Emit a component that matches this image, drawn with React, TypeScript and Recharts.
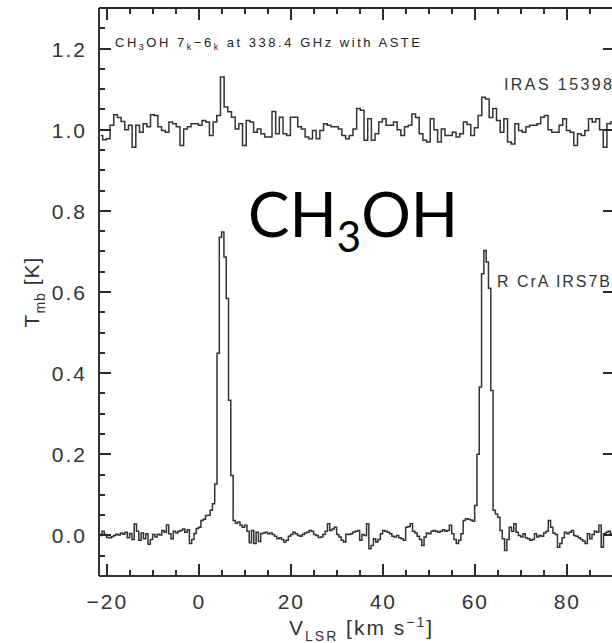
import { LineChart, Line, XAxis, YAxis } from "recharts";

// channel grids (km/s)
const IRAS_V0 = -21.4;
const IRAS_DV = 0.8;
const RCRA_V0 = -21.9;
const RCRA_DV = 0.5;

// IRAS 15398, shown with the +1.0 K offset as in the figure
const irasTmb = [
  0.986, 0.975, 0.978, 1.011, 1.037, 1.03, 1.02, 1.0, 1.011, 0.957,
  1.011, 0.994, 1.015, 1.007, 1.037, 1.035, 1.007, 0.998, 0.994, 1.019,
  1.015, 1.007, 0.961, 1.002, 1.007, 1.015, 1.015, 1.011, 1.023, 1.019,
  0.986, 1.019, 1.035, 1.13, 1.056, 1.044, 1.031, 1.002, 1.015, 0.961,
  1.023, 1.019, 0.994, 1.002, 0.99, 0.982, 0.982, 1.045, 0.99, 1.031,
  0.99, 0.986, 1.031, 1.031, 1.007, 1.002, 0.982, 0.978, 0.998, 0.978,
  0.998, 1.015, 1.011, 1.007, 1.007, 1.002, 0.986, 0.978, 0.986, 1.002,
  1.052, 1.048, 0.974, 1.027, 0.974, 0.99, 1.019, 1.027, 1.011, 1.011,
  1.019, 1.0, 0.986, 1.007, 1.011, 1.039, 1.03, 0.99, 0.974, 0.97,
  1.027, 1.0, 0.97, 1.002, 0.986, 0.986, 0.994, 0.982, 0.99, 1.019,
  1.013, 0.986, 1.005, 1.035, 1.08, 1.076, 1.03, 1.052, 1.023, 0.994,
  1.027, 0.97, 0.965, 1.015, 0.998, 0.994, 1.007, 1.011, 1.011, 1.015,
  1.031, 1.035, 1.0, 0.994, 0.994, 1.011, 1.027, 0.998, 0.994, 0.961,
  0.99, 0.986, 0.998, 1.027, 1.019, 1.027, 1.0, 0.957, 1.015, 1.019,
];

// R CrA IRS7B
const rcraTmb = [
  0.004, 0.0, 0.01, 0.002, -0.005, -0.006, -0.003, 0.0, 0.003, 0.001,
  0.006, 0.003, 0.008, -0.006, 0.005, -0.01, 0.028, 0.01, -0.012, 0.006,
  -0.008, 0.004, -0.022, -0.01, 0.002, -0.004, 0.003, 0.001, 0.012, 0.008,
  0.026, 0.004, -0.008, 0.01, 0.006, 0.01, 0.012, 0.016, 0.008, 0.014,
  -0.02, -0.01, 0.005, 0.017, 0.02, 0.037, 0.04, 0.049, 0.05, 0.062,
  0.078, 0.127, 0.449, 0.735, 0.748, 0.686, 0.584, 0.333, 0.148, 0.037,
  0.03, 0.033, 0.025, 0.02, 0.025, 0.01, -0.018, 0.012, -0.02, 0.008,
  -0.015, 0.005, 0.006, 0.008, 0.004, 0.006, 0.002, -0.002, -0.008, -0.006,
  -0.01, -0.016, -0.012, -0.002, 0.002, 0.008, 0.004, 0.0, -0.002, 0.002,
  0.006, 0.008, 0.012, 0.01, 0.002, 0.0, -0.005, -0.004, 0.002, 0.01,
  0.029, 0.012, 0.016, 0.02, 0.002, -0.004, -0.012, -0.016, 0.003, 0.002,
  0.004, 0.008, 0.01, 0.012, -0.012, 0.002, 0.0, 0.029, -0.033, -0.025,
  -0.008, -0.016, -0.01, 0.004, 0.012, 0.01, 0.008, 0.004, -0.002, -0.004,
  0.0, -0.006, -0.008, -0.012, 0.02, 0.022, 0.029, 0.01, 0.006, -0.002,
  -0.01, -0.025, -0.004, 0.006, 0.004, 0.01, 0.012, 0.01, 0.008, 0.01,
  0.014, 0.01, 0.012, 0.025, 0.004, -0.01, -0.02, -0.012, 0.004, 0.037,
  0.041, 0.04, 0.038, 0.035, 0.074, 0.2, 0.366, 0.645, 0.702, 0.674,
  0.609, 0.357, 0.062, 0.053, 0.045, 0.012, -0.008, -0.037, -0.01, 0.02,
  0.01, 0.029, 0.008, 0.0, -0.004, 0.004, -0.006, -0.008, -0.012, -0.01,
  0.004, -0.004, 0.0, -0.002, 0.006, 0.01, 0.037, 0.02, 0.006, 0.002,
  -0.029, -0.02, -0.006, 0.008, 0.004, 0.008, 0.012, 0.0, -0.002, -0.006,
  -0.01, -0.014, -0.02, 0.004, -0.008, 0.002, 0.01, 0.008, 0.025, -0.029,
  0.004, 0.008, 0.01, 0.005, 0.0,
];

const xTicks = [-20, -15, -10, -5, 0, 5, 10, 15, 20, 25, 30, 35, 40, 45, 50, 55, 60, 65, 70, 75, 80, 85];
const yTicks = [
  -0.05, 0, 0.05, 0.1, 0.15, 0.2, 0.25, 0.3, 0.35, 0.4, 0.45, 0.5, 0.55, 0.6,
  0.65, 0.7, 0.75, 0.8, 0.85, 0.9, 0.95, 1.0, 1.05, 1.1, 1.15, 1.2, 1.25,
];

const INK = "#333333";
const FONT = "'Liberation Sans', Arial, sans-serif";
const X_MIN = -21.8;
const X_MAX = 89.7;
const Y_MIN = -0.1;
const Y_MAX = 1.3;

// plot box shared by the chart and the frame overlay
const W = 612;
const H = 643;
const PLOT_L = 99;
const PLOT_T = 8;
const AXIS_H = 67;
const PLOT_W = W - PLOT_L;
const PLOT_H = H - PLOT_T - AXIS_H;
const sx = (v: number) => PLOT_L + ((v - X_MIN) / (X_MAX - X_MIN)) * PLOT_W;
const sy = (v: number) => PLOT_T + ((Y_MAX - v) / (Y_MAX - Y_MIN)) * PLOT_H;

const irasData = irasTmb.map((t, i) => ({ v: IRAS_V0 + IRAS_DV * i, t }));
const rcraData = rcraTmb.map((t, i) => ({ v: RCRA_V0 + RCRA_DV * i, t }));

const isMajorX = (v: number) => Math.round(v) % 20 === 0;
const isMajorY = (v: number) => Math.round(v * 100) % 20 === 0;

function BottomLabel(p: any) {
  const v = p.payload.value;
  if (!isMajorX(v)) return <g />;
  return (
    <text x={p.x} y={p.y + 33} textAnchor="middle" fontSize={21} letterSpacing={2} fill={INK} fontFamily={FONT}>
      {v < 0 ? "\u2212" + Math.abs(v) : String(v)}
    </text>
  );
}

function LeftLabel(p: any) {
  const v = p.payload.value;
  if (!isMajorY(v)) return <g />;
  return (
    <text x={p.x - 12} y={p.y + 8} textAnchor="end" fontSize={21} letterSpacing={2} fill={INK} fontFamily={FONT}>
      {v.toFixed(1)}
    </text>
  );
}

// inward tick marks and top frame, drawn as filled rects
function Frame() {
  const t = 2;
  return (
    <g fill="#2a2a2a" stroke="none">
      <rect x={PLOT_L} y={PLOT_T - 1} width={PLOT_W} height={t} />
      {xTicks.map((v) => {
        const len = isMajorX(v) ? 12 : 6;
        const x = Math.round(sx(v)) - 1;
        return (
          <g key={"x" + v}>
            <rect x={x} y={PLOT_T + PLOT_H - len} width={t} height={len} />
            <rect x={x} y={PLOT_T} width={t} height={len} />
          </g>
        );
      })}
      {yTicks.map((v) => {
        const major = isMajorY(v);
        const y = Math.round(sy(v)) - 1;
        return (
          <g key={"y" + v}>
            <rect x={PLOT_L} y={y} width={major ? 12 : 6} height={t} />
            {major ? <rect x={W - 9} y={y} width={9} height={t} /> : null}
          </g>
        );
      })}
    </g>
  );
}

export default function App() {
  return (
    <div style={{ position: "fixed", left: 0, top: 0, width: W, height: H, background: "#fff", overflow: "hidden" }}>
      <div style={{ position: "absolute", left: 0, top: 0 }}>
        <LineChart width={W} height={H} margin={{ top: PLOT_T, right: 0, bottom: 0, left: 0 }}>
          <XAxis
            xAxisId="b" type="number" dataKey="v" domain={[X_MIN, X_MAX]} allowDataOverflow
            ticks={xTicks} interval={0} height={AXIS_H} tickSize={0} tickMargin={0} tickLine={false}
            axisLine={{ stroke: INK, strokeWidth: 2 }} tick={BottomLabel}
          />
          <YAxis
            yAxisId="l" type="number" domain={[Y_MIN, Y_MAX]} allowDataOverflow
            ticks={yTicks} interval={0} width={PLOT_L} tickSize={0} tickMargin={0} tickLine={false}
            axisLine={{ stroke: INK, strokeWidth: 2 }} tick={LeftLabel}
          />
          <Line xAxisId="b" yAxisId="l" data={irasData} dataKey="t" type="step" stroke={INK} strokeWidth={1.5} dot={false} isAnimationActive={false} />
          <Line xAxisId="b" yAxisId="l" data={rcraData} dataKey="t" type="step" stroke={INK} strokeWidth={1.5} dot={false} isAnimationActive={false} />
        </LineChart>
      </div>
      <svg width={W} height={H} style={{ position: "absolute", left: 0, top: 0, pointerEvents: "none" }} fontFamily={FONT} fill={INK}>
        <Frame />
        <text x={115} y={47} fontSize={13} textLength={305} lengthAdjust="spacing" fill="#222">
          CH<tspan dy={3} fontSize={9}>3</tspan>
          <tspan dy={-3}>OH 7</tspan>
          <tspan dy={3} fontSize={9}>k</tspan>
          <tspan dy={-3}>{"\u22126"}</tspan>
          <tspan dy={3} fontSize={9}>k</tspan>
          <tspan dy={-3}> at 338.4 GHz with ASTE</tspan>
        </text>
        <text x={504} y={90} fontSize={16} textLength={108} lengthAdjust="spacing">IRAS 15398</text>
        <text x={497} y={287} fontSize={16} textLength={113} lengthAdjust="spacing">R CrA IRS7B</text>
        <text x={248} y={237} fontSize={62} fill="#000" fontFamily="Lato, 'Open Sans', sans-serif">
          CH<tspan fontSize={42} dy={15}>3</tspan>
          <tspan dy={-15}>OH</tspan>
        </text>
        <text transform="translate(39, 292) rotate(-90)" textAnchor="middle" fontSize={21} letterSpacing={1}>
          T<tspan fontSize={14} dy={6}>mb</tspan>
          <tspan dy={-6}> [K]</tspan>
        </text>
        <text x={289} y={635} fontSize={21} letterSpacing={2}>
          V<tspan fontSize={14} dy={6}>LSR</tspan>
          <tspan dy={-6}> [km s</tspan>
          <tspan fontSize={14} dy={-8}>{"\u22121"}</tspan>
          <tspan dy={8}>]</tspan>
        </text>
      </svg>
    </div>
  );
}
